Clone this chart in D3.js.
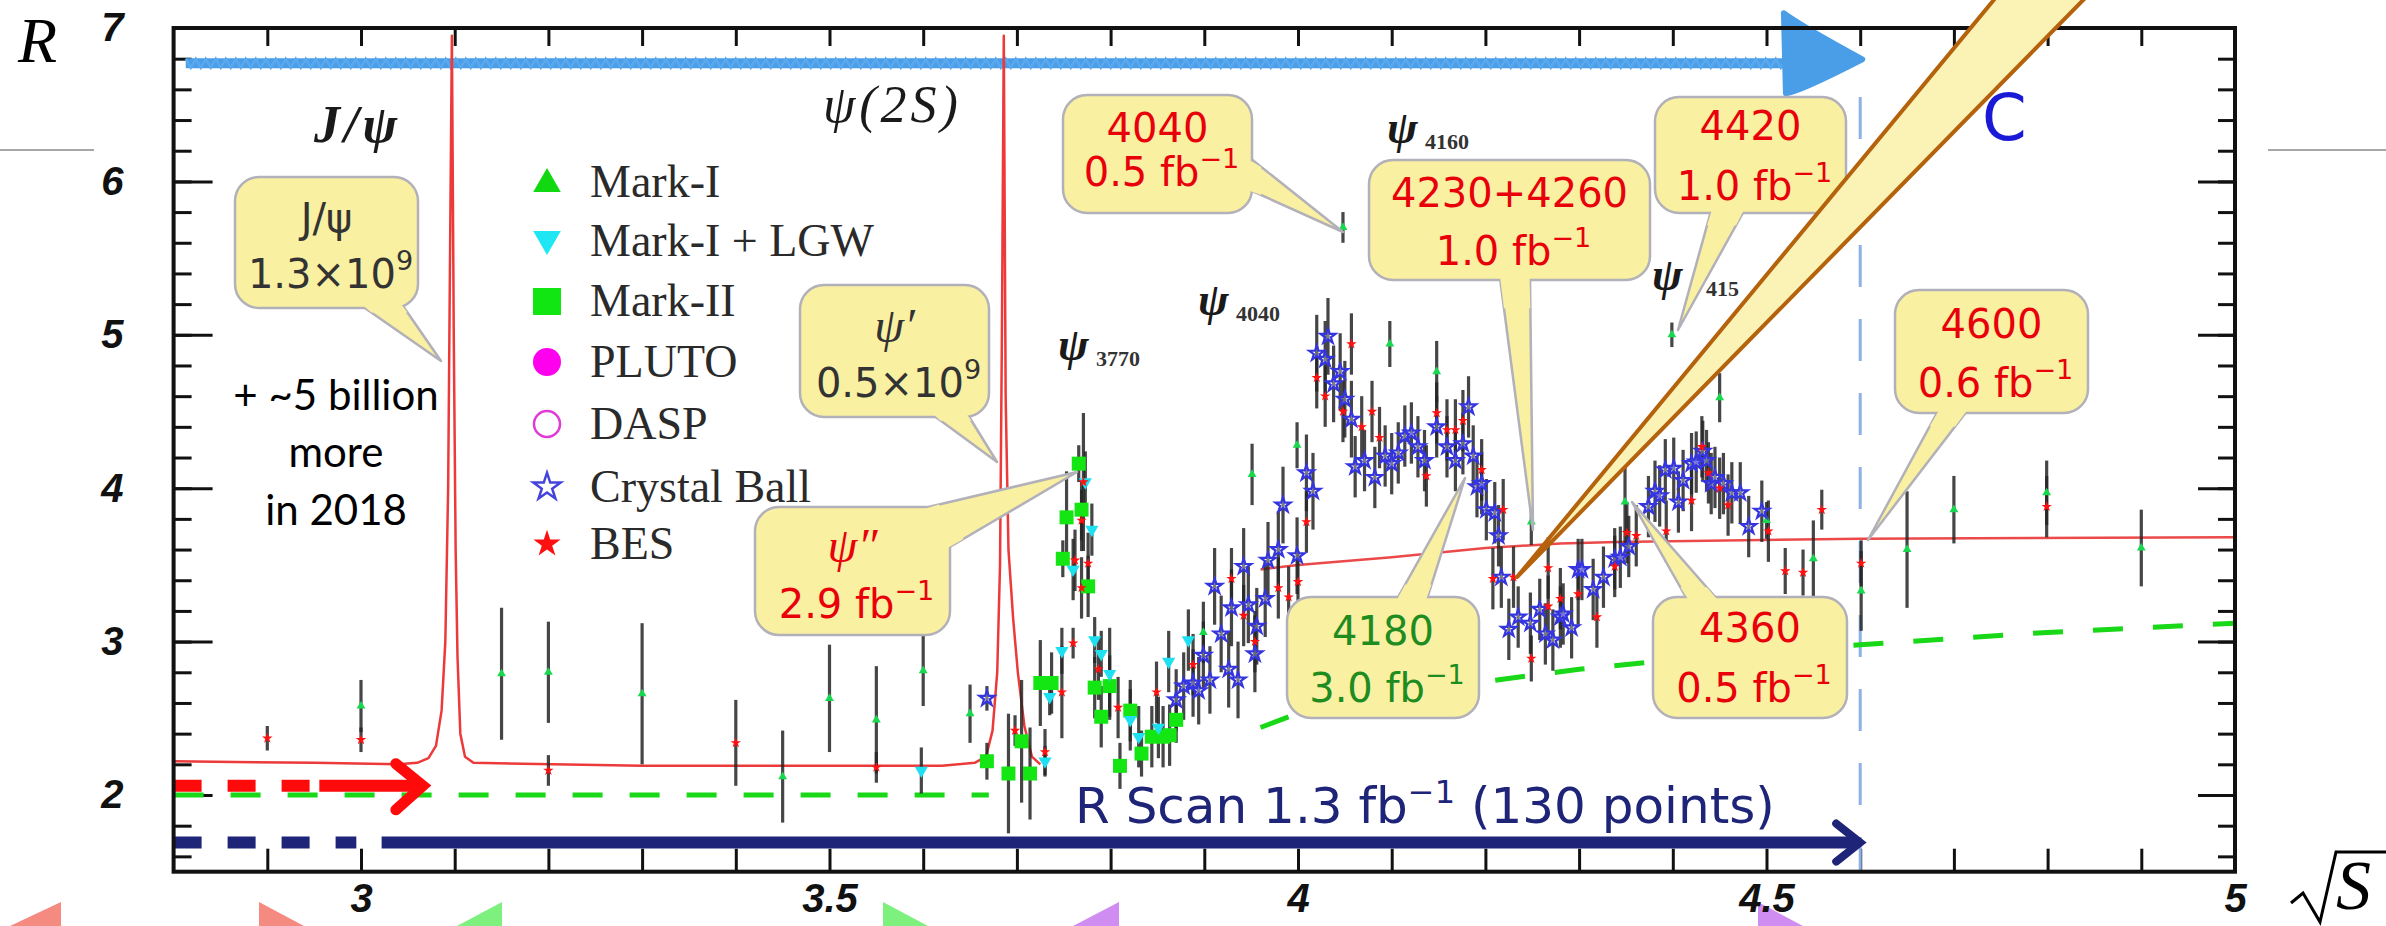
<!DOCTYPE html>
<html><head><meta charset="utf-8">
<script src="https://cdn.jsdelivr.net/npm/d3@7"></script>
<style>body{margin:0;background:#fff}svg{display:block}</style>
</head><body>
<svg id="c" width="2386" height="926"></svg>
<script>
// ---------------- DATA ----------------
// [sqrt(s) GeV, R, error]
const markI = [[3.00,2.58,0.17],[3.15,2.79,0.43],[3.20,2.80,0.33],[3.30,2.66,0.46],[3.45,2.12,0.30],[3.50,2.63,0.35],[3.55,2.49,0.35],[3.60,2.81,0.23],[3.65,2.53,0.19],[3.899,3.06,0.20],[3.951,4.09,0.20],[3.999,4.28,0.15],[4.048,5.70,0.10],[4.098,4.94,0.15],[4.148,4.76,0.20],[4.249,3.78,0.15],[4.349,3.91,0.27],[4.399,5.00,0.08],[4.450,4.59,0.16],[4.500,3.79,0.12],[4.550,3.54,0.25],[4.601,3.33,0.26],[4.650,3.60,0.38],[4.700,3.86,0.22],[4.799,3.97,0.21],[4.900,3.61,0.25]];
const markILGW = [[3.598,2.16,0.15],[3.730,2.22,0.10],[3.735,2.64,0.12],[3.748,2.94,0.15],[3.760,3.47,0.2],[3.773,4.04,0.2],[3.780,3.73,0.17],[3.783,3.01,0.15],[3.790,2.92,0.15],[3.799,2.79,0.3],[3.821,2.49,0.2],[3.830,2.38,0.2],[3.851,2.44,0.2],[3.862,2.87,0.2],[3.883,3.01,0.2]];
const markII = [[3.668,2.22,0.12],[3.691,2.14,0.39],[3.705,2.35,0.4],[3.714,2.14,0.3],[3.725,2.73,0.28],[3.737,2.73,0.2],[3.749,3.54,0.12],[3.753,3.81,0.3],[3.766,4.16,0.12],[3.769,3.86,0.2],[3.776,3.36,0.2],[3.783,2.70,0.2],[3.790,2.51,0.2],[3.799,2.71,0.2],[3.810,2.19,0.15],[3.821,2.55,0.2],[3.833,2.27,0.15],[3.844,2.38,0.2],[3.856,2.38,0.2],[3.863,2.39,0.2],[3.870,2.49,0.15]];
const pluto = [];
const dasp = [];
const crystalBall = [[3.668,2.63,0.08],[3.870,2.62,0.2],[3.878,2.71,0.22],[3.888,2.73,0.22],[3.894,2.68,0.22],[3.899,2.91,0.22],[3.906,2.75,0.22],[3.911,3.36,0.25],[3.918,3.05,0.25],[3.926,2.82,0.25],[3.929,3.22,0.25],[3.936,2.75,0.25],[3.942,3.49,0.25],[3.947,3.24,0.25],[3.954,2.92,0.25],[3.956,3.10,0.25],[3.965,3.28,0.25],[3.968,3.53,0.25],[3.979,3.60,0.25],[3.984,3.89,0.25],[3.999,3.56,0.25],[4.009,4.10,0.25],[4.016,3.98,0.25],[4.020,4.88,0.25],[4.029,4.84,0.25],[4.032,4.99,0.25],[4.038,4.68,0.25],[4.045,4.76,0.25],[4.050,4.58,0.25],[4.057,4.45,0.25],[4.061,4.14,0.2],[4.071,4.18,0.2],[4.082,4.07,0.2],[4.093,4.21,0.2],[4.100,4.16,0.2],[4.107,4.23,0.2],[4.114,4.34,0.2],[4.121,4.36,0.2],[4.128,4.27,0.2],[4.135,4.18,0.2],[4.148,4.40,0.2],[4.159,4.27,0.2],[4.168,4.18,0.2],[4.176,4.29,0.2],[4.182,4.53,0.2],[4.187,4.21,0.2],[4.191,4.01,0.2],[4.196,4.03,0.2],[4.201,3.86,0.2],[4.210,3.84,0.2],[4.214,3.69,0.2],[4.217,3.42,0.2],[4.225,3.08,0.2],[4.235,3.16,0.2],[4.248,3.12,0.2],[4.258,3.21,0.2],[4.264,3.05,0.2],[4.272,3.01,0.2],[4.280,3.16,0.2],[4.283,3.18,0.2],[4.292,3.09,0.2],[4.299,3.47,0.2],[4.303,3.47,0.2],[4.315,3.34,0.2],[4.326,3.42,0.2],[4.338,3.54,0.2],[4.344,3.55,0.2],[4.353,3.62,0.2],[4.374,3.88,0.2],[4.381,3.98,0.2],[4.386,3.95,0.2],[4.392,4.12,0.2],[4.401,4.13,0.2],[4.406,3.91,0.2],[4.411,4.05,0.2],[4.420,4.16,0.2],[4.425,4.17,0.2],[4.432,4.24,0.2],[4.436,4.18,0.2],[4.441,4.03,0.2],[4.445,4.07,0.2],[4.454,4.03,0.2],[4.463,3.97,0.2],[4.472,3.97,0.2],[4.481,3.75,0.2],[4.495,3.85,0.2]];
const bes = [[2.90,2.37,0.08],[3.00,2.36,0.08],[3.20,2.16,0.1],[3.40,2.34,0.28],[3.55,2.18,0.1],[3.698,2.42,0.1],[3.730,2.28,0.15],[3.748,2.67,0.3],[3.760,2.99,0.1],[3.762,3.53,0.2],[3.769,3.79,0.2],[3.769,3.35,0.2],[3.771,4.04,0.45],[3.776,3.51,0.2],[3.787,2.82,0.2],[3.808,2.57,0.2],[3.849,2.67,0.2],[3.888,2.85,0.2],[3.929,3.41,0.2],[3.942,3.17,0.2],[3.954,3.00,0.2],[3.979,3.35,0.2],[3.990,3.29,0.2],[4.000,3.39,0.2],[4.009,3.78,0.2],[4.020,4.72,0.2],[4.029,4.60,0.2],[4.048,4.50,0.2],[4.057,4.94,0.2],[4.068,4.40,0.2],[4.079,4.50,0.2],[4.087,4.33,0.2],[4.137,4.08,0.2],[4.148,4.49,0.2],[4.159,4.38,0.2],[4.168,4.38,0.2],[4.176,4.44,0.2],[4.196,4.12,0.2],[4.208,3.41,0.2],[4.219,3.86,0.2],[4.230,3.42,0.2],[4.249,2.89,0.15],[4.267,3.48,0.2],[4.267,3.23,0.2],[4.280,3.28,0.2],[4.299,3.31,0.2],[4.319,3.16,0.2],[4.338,3.49,0.2],[4.351,3.71,0.2],[4.361,3.69,0.2],[4.393,3.72,0.2],[4.420,3.92,0.2],[4.431,4.27,0.2],[4.438,4.10,0.2],[4.450,4.00,0.2],[4.459,3.89,0.2],[4.502,3.72,0.2],[4.520,3.46,0.15],[4.539,3.45,0.15],[4.559,3.86,0.13],[4.601,3.51,0.15],[4.799,3.88,0.2]];
// theory curves
const theoryLow = [[2.80,2.22],[2.95,2.21],[3.04,2.20],[3.060,2.21],[3.072,2.24],[3.080,2.32],[3.086,2.55],[3.090,3.0],[3.093,4.0],[3.095,5.5],[3.097,6.95],[3.099,5.0],[3.101,3.6],[3.103,2.9],[3.106,2.4],[3.111,2.25],[3.12,2.21],[3.30,2.19],[3.50,2.19],[3.62,2.19],[3.655,2.21],[3.667,2.25],[3.674,2.42],[3.679,2.8],[3.682,3.5],[3.684,5.0],[3.686,6.95],[3.688,4.6],[3.691,3.6],[3.696,3.15],[3.701,2.8],[3.708,2.45],[3.716,2.25],[3.725,2.2]];
const theoryHigh = [[3.96,3.47],[4.00,3.50],[4.10,3.55],[4.20,3.61],[4.28,3.64],[4.34,3.65],[4.60,3.67],[5.00,3.68]];
const bkgLow = [[2.80,2.0],[3.67,2.0]];
const bkgHigh = [[3.96,2.44],[3.99,2.51],[4.10,2.65],[4.20,2.74],[4.30,2.82],[4.40,2.88],[4.50,2.93],[4.60,2.98],[4.70,3.02],[4.80,3.06],[4.90,3.09],[5.00,3.12]];
// ranges
const topRange = [2.813, 4.525, 6.77];
const redRange = [2.80, 2.947, 3.058, 3.066, 2.06];
const scanRange = [2.80, 2.995, 3.022, 4.60, 1.69];
const boundary = 4.60;
// axis ticks
const xLabelTicks = [3, 3.5, 4, 4.5, 5];
const yLabelTicks = [2, 3, 4, 5, 6, 7];
const legendNames = ["Mark-I", "Mark-I + LGW", "Mark-II", "PLUTO", "DASP", "Crystal Ball", "BES"];

// ---------------- SETUP ----------------
const svg = d3.select("#c");
const x = d3.scaleLinear().domain([2.8, 5.0]).range([173.6, 2235]);
const y = d3.scaleLinear().domain([1.5, 7]).range([871.7, 28]);
const X0 = x(2.8), X1 = x(5.0), Y0 = y(7), Y1 = y(1.5);

// slide decorations
svg.append("line").attr("x1",0).attr("x2",94).attr("y1",150).attr("y2",150).attr("stroke","#8a8a8a").attr("stroke-width",1.5);
svg.append("line").attr("x1",2268).attr("x2",2386).attr("y1",150).attr("y2",150).attr("stroke","#8a8a8a").attr("stroke-width",1.5);
const tris = [["#f48a80",[[10,926],[61,902],[61,926]]],["#f48a80",[[259,902],[259,926],[304,926]]],["#7ef07e",[[457,926],[502,902],[502,926]]],["#7ef07e",[[883,902],[883,926],[928,926]]],["#cf8df2",[[1073,926],[1119,902],[1119,926]]],["#cf8df2",[[1758,902],[1758,926],[1803,926]]]];
tris.forEach(t=>svg.append("path").attr("d","M"+t[1].join("L")+"Z").attr("fill",t[0]));

// R and sqrt(s) labels
svg.append("text").attr("x",18).attr("y",62).text("R").attr("font-family","Liberation Serif").attr("font-style","italic").attr("font-size",64).attr("fill","#000");
svg.append("path").attr("d","M2291,903 L2303,893 L2320,922 L2336,852 L2386,852").attr("fill","none").attr("stroke","#000").attr("stroke-width",3);
svg.append("text").attr("x",2336).attr("y",909).text("S").attr("font-family","Liberation Serif").attr("font-style","italic").attr("font-size",70).attr("fill","#000");

// ---------------- AXES ----------------
const minorX = d3.range(2.9, 4.95, 0.1);
const minorY = d3.range(1.6, 6.95, 0.2);
function strip(g){ g.select(".domain").remove(); g.selectAll("line").attr("stroke","#111").attr("stroke-width",3); }
svg.append("g").attr("transform",`translate(0,${Y1})`).call(d3.axisBottom(x).tickValues(minorX).tickSizeInner(-23).tickSizeOuter(0).tickFormat("")).call(strip);
svg.append("g").attr("transform",`translate(0,${Y0})`).call(d3.axisTop(x).tickValues(minorX).tickSizeInner(-18).tickSizeOuter(0).tickFormat("")).call(strip);
svg.append("g").attr("transform",`translate(${X0},0)`).call(d3.axisLeft(y).tickValues(minorY).tickSizeInner(-18).tickSizeOuter(0).tickFormat("")).call(strip);
svg.append("g").attr("transform",`translate(${X0},0)`).call(d3.axisLeft(y).tickValues(yLabelTicks.slice(0,5)).tickSizeInner(-39).tickSizeOuter(0).tickFormat("")).call(strip);
svg.append("g").attr("transform",`translate(${X1},0)`).call(d3.axisRight(y).tickValues(minorY).tickSizeInner(-17).tickSizeOuter(0).tickFormat("")).call(strip);
svg.append("g").attr("transform",`translate(${X1},0)`).call(d3.axisRight(y).tickValues(yLabelTicks.slice(0,5)).tickSizeInner(-37).tickSizeOuter(0).tickFormat("")).call(strip);
function labStyle(g){ g.select(".domain").remove(); g.selectAll("text").attr("font-family","Liberation Sans").attr("font-weight","bold").attr("font-style","italic").attr("font-size",40).attr("fill","#111"); }
svg.append("g").attr("transform",`translate(0,${Y1})`).call(d3.axisBottom(x).tickValues(xLabelTicks).tickSize(0).tickPadding(12).tickFormat(d3.format("~g"))).call(labStyle);
svg.append("g").attr("transform",`translate(${X0},0)`).call(d3.axisLeft(y).tickValues(yLabelTicks).tickSize(0).tickPadding(50).tickFormat(d3.format("d"))).call(labStyle);

// ---------------- RANGE ARROWS ----------------
const ty = y(topRange[2]);
svg.append("line").attr("x1",x(topRange[0])).attr("x2",x(topRange[1])).attr("y1",ty).attr("y2",ty).attr("stroke","#4a9ee8").attr("stroke-width",10);
const zig = d3.range(x(topRange[0]), x(topRange[1]), 5).map((px,i)=>[px, ty + (i%2 ? 4.5 : -4.5)]);
svg.append("path").attr("d","M"+zig.join("L")).attr("fill","none").attr("stroke","#5aa8ee").attr("stroke-width",2.5);
const hx = x(topRange[1]), tipx = x(boundary)+2;
svg.append("path").attr("d",`M${hx-6},${ty-50} Q${hx+10},${ty-38} ${tipx},${ty-4} Q${hx+10},${ty+28} ${hx-4},${ty+30} Z`).attr("fill","#4a9ee8").attr("stroke","#4a9ee8").attr("stroke-width",6).attr("stroke-linejoin","round");

svg.append("line").attr("x1",x(boundary)).attr("x2",x(boundary)).attr("y1",y(6.55)).attr("y2",Y1).attr("stroke","#8db0e6").attr("stroke-width",3).attr("stroke-dasharray","42,32");

// ---------------- CURVES ----------------
const line = d3.line().x(d=>x(d[0])).y(d=>y(d[1]));
svg.append("path").datum(bkgLow).attr("d",line).attr("fill","none").attr("stroke","#18d818").attr("stroke-width",5).attr("stroke-dasharray","30,27");
svg.append("path").datum(bkgHigh).attr("d",line).attr("fill","none").attr("stroke","#18d818").attr("stroke-width",5).attr("stroke-dasharray","30,30");
svg.append("path").datum(theoryLow).attr("d",line).attr("fill","none").attr("stroke","#ec3a3a").attr("stroke-width",2.5).attr("stroke-linejoin","round");
svg.append("path").datum(theoryHigh).attr("d",line).attr("fill","none").attr("stroke","#ec4a4a").attr("stroke-width",2.5);

const ry = y(redRange[4]);
svg.append("line").attr("x1",x(redRange[0])).attr("x2",x(redRange[1])).attr("y1",ry).attr("y2",ry).attr("stroke","#ff0a0a").attr("stroke-width",12).attr("stroke-dasharray","28,26");
svg.append("line").attr("x1",x(redRange[1])+8).attr("x2",x(redRange[2])).attr("y1",ry).attr("y2",ry).attr("stroke","#ff0a0a").attr("stroke-width",12);
svg.append("path").attr("d",`M${x(redRange[3])-27},${ry-22} L${x(redRange[3])},${ry} L${x(redRange[3])-27},${ry+24}`).attr("fill","none").attr("stroke","#ff0a0a").attr("stroke-width",11).attr("stroke-linecap","round");
const ny = y(scanRange[4]);
svg.append("line").attr("x1",x(scanRange[0])).attr("x2",x(scanRange[1])).attr("y1",ny).attr("y2",ny).attr("stroke","#1e2478").attr("stroke-width",12).attr("stroke-dasharray","28,26");
svg.append("line").attr("x1",x(scanRange[2])).attr("x2",x(scanRange[3])-4).attr("y1",ny).attr("y2",ny).attr("stroke","#1e2478").attr("stroke-width",12);
svg.append("path").attr("d",`M${x(scanRange[3])-24},${ny-19} L${x(scanRange[3])},${ny} L${x(scanRange[3])-24},${ny+19}`).attr("fill","none").attr("stroke","#1e2478").attr("stroke-width",8).attr("stroke-linecap","round");
svg.append("text").attr("x",1075).attr("y",823).attr("font-family","DejaVu Sans").attr("font-size",50).attr("fill","#1e2478")
  .call(t=>{t.append("tspan").text("R Scan 1.3 fb"); t.append("tspan").attr("dy",-20).attr("font-size",32).text("\u22121"); t.append("tspan").attr("dy",20).text(" (130 points)");});

// ---------------- DATA POINTS ----------------
const all = [].concat(markI, markILGW, markII, pluto, dasp, crystalBall, bes);
svg.append("g").selectAll("line").data(all).join("line")
  .attr("x1",d=>x(d[0])).attr("x2",d=>x(d[0])).attr("y1",d=>y(d[1]-d[2])).attr("y2",d=>y(d[1]+d[2]))
  .attr("stroke","#262626").attr("stroke-width",3.2).attr("opacity",0.85);
const sym = (type,size)=>d3.symbol().type(type).size(size)();
function pts(data, path, attrs, rot){
  const g = svg.append("g");
  const s = g.selectAll("path").data(data).join("path").attr("d",path)
    .attr("transform",d=>`translate(${x(d[0])},${y(d[1])})${rot?` rotate(${rot})`:""}`);
  Object.entries(attrs).forEach(([k,v])=>s.attr(k,v));
}
pts(markII, "M-7,-7h14v14h-14z", {fill:"#14e614"});
pts(markILGW, sym(d3.symbolTriangle,75), {fill:"#1ee0f0"}, 180);
pts(markI, sym(d3.symbolTriangle,34), {fill:"#18d850"});
pts(pluto, sym(d3.symbolCircle,70), {fill:"#ff00ff"});
pts(dasp, sym(d3.symbolCircle,70), {fill:"none",stroke:"#e040e0","stroke-width":2});
pts(crystalBall, sym(d3.symbolStar,70), {fill:"rgba(255,255,255,0.3)",stroke:"#3535e0","stroke-width":2.2});
pts(bes, sym(d3.symbolStar,34), {fill:"#ff1010"});

// ---------------- LEGEND ----------------
const legY = [182, 241, 301, 362, 424, 487, 544];
const lg = svg.append("g");
const lx = 547;
lg.append("path").attr("d",sym(d3.symbolTriangle,330)).attr("transform",`translate(${lx},${legY[0]+2})`).attr("fill","#12d812");
lg.append("path").attr("d",sym(d3.symbolTriangle,330)).attr("transform",`translate(${lx},${legY[1]-2}) rotate(180)`).attr("fill","#1ee6f2");
lg.append("rect").attr("x",lx-14).attr("y",legY[2]-13).attr("width",28).attr("height",27).attr("fill","#12e612");
lg.append("circle").attr("cx",lx).attr("cy",legY[3]).attr("r",14).attr("fill","#ff00ee");
lg.append("circle").attr("cx",lx).attr("cy",legY[4]).attr("r",13).attr("fill","none").attr("stroke","#e03ad8").attr("stroke-width",2.5);
lg.append("path").attr("d",sym(d3.symbolStar,230)).attr("transform",`translate(${lx},${legY[5]})`).attr("fill","none").attr("stroke","#4444dd").attr("stroke-width",2.5);
lg.append("path").attr("d",sym(d3.symbolStar,230)).attr("transform",`translate(${lx},${legY[6]})`).attr("fill","#ff1010");
lg.selectAll("text").data(legendNames).join("text").attr("x",590).attr("y",(d,i)=>legY[i]+15).text(d=>d)
  .attr("font-family","Liberation Serif").attr("font-size",46).attr("fill","#2a2a2a");

// ---------------- LABELS ----------------
function T(px,py,str,o){ const t=svg.append("text").attr("x",px).attr("y",py).text(str); Object.entries(o).forEach(([k,v])=>t.attr(k,v)); return t; }
const serifBI = {"font-family":"Liberation Serif","font-style":"italic","font-weight":"bold",fill:"#1a1a1a"};
T(314,142,"J/\u03c8",{...serifBI,"font-size":52,"letter-spacing":4});
T(823,122,"\u03c8(2S)",{"font-family":"Liberation Serif","font-style":"italic","font-size":52,"letter-spacing":4,fill:"#1a1a1a"});
[["3770",1058,360],["4040",1198,315],["4160",1387,143],["415",1652,290]].forEach(([s,px,py])=>{
  T(px,py,"\u03c8",{...serifBI,"font-size":46});
  T(px+(s==="415"?54:38),py+6,s,{"font-family":"Liberation Serif","font-weight":"bold","font-size":22,fill:"#333"});
});
[["+ ~5 billion",410],["more",467],["in 2018",525]].forEach(([s,py])=>T(336,py,s,{"font-family":"Lato","font-size":42,"text-anchor":"middle",fill:"#000"}));
T(1982,140,"C",{"font-family":"DejaVu Sans","font-size":64,fill:"#1a1ad6"});

// ---------------- CALLOUTS ----------------
const RED="#e8000a", GRN="#1f8c1f", GRY="#333";
const callouts = [
  {b:[235,177,183,131], base:[[362,306],[403,306]], tip:[441,361], lines:[[232,"J/\u03c8",null,GRY],[288,"1.3\u00d710","9",GRY]]},
  {b:[800,285,189,132], base:[[933,415],[968,415]], tip:[997,462], lines:[[342,"\u03c8\u2032",null,GRY,"it"],[397,"0.5\u00d710","9",GRY]]},
  {b:[755,507,195,128], base:[[920,509],[948,548]], tip:[1077,472], lines:[[562,"\u03c8\u2033",null,RED,"it"],[618,"2.9 fb","\u22121",RED]]},
  {b:[1063,95,189,118], base:[[1250,158],[1250,190]], tip:[1343,232], lines:[[142,"4040",null,RED],[186,"0.5 fb","\u22121",RED]]},
  {b:[1369,160,281,120], base:[[1500,278],[1530,278]], tip:[1533,530], lines:[[207,"4230+4260",null,RED],[265,"1.0 fb","\u22121",RED]]},
  {b:[1655,97,191,116], base:[[1711,211],[1744,211]], tip:[1678,330], lines:[[140,"4420",null,RED],[200,"1.0 fb","\u22121",RED]]},
  {b:[1895,290,193,123], base:[[1938,411],[1967,411]], tip:[1868,540], lines:[[338,"4600",null,RED],[397,"0.6 fb","\u22121",RED]]},
  {b:[1287,597,192,121], base:[[1397,599],[1427,599]], tip:[1465,478], lines:[[645,"4180",null,GRN],[702,"3.0 fb","\u22121",GRN]]},
  {b:[1653,597,194,121], base:[[1687,599],[1717,599]], tip:[1632,502], lines:[[642,"4360",null,RED],[702,"0.5 fb","\u22121",RED]]}
];
const FILL="#f9f0a2", STK="#b2b0b8";
callouts.forEach(c=>{
  const g = svg.append("g");
  const [bx,by,bw,bh]=c.b;
  g.append("path").attr("d","M"+[c.base[0],c.tip,c.base[1]].join("L")+"Z").attr("fill",FILL).attr("stroke",STK).attr("stroke-width",2.5).attr("stroke-linejoin","round");
  g.append("rect").attr("x",bx).attr("y",by).attr("width",bw).attr("height",bh).attr("rx",24).attr("fill",FILL).attr("stroke",STK).attr("stroke-width",2.5);
  const cx=bx+bw/2, cy=by+bh/2;
  const mx=(c.base[0][0]+c.base[1][0])/2, my=(c.base[0][1]+c.base[1][1])/2;
  let vx=cx-mx, vy=cy-my; const L=Math.hypot(vx,vy); vx/=L; vy/=L;
  const a=c.base[0], b2=c.base[1], t=c.tip, f=0.12;
  const poly=[[a[0]+vx*7,a[1]+vy*7],[b2[0]+vx*7,b2[1]+vy*7],[b2[0]+(t[0]-b2[0])*f,b2[1]+(t[1]-b2[1])*f],[a[0]+(t[0]-a[0])*f,a[1]+(t[1]-a[1])*f]];
  g.append("path").attr("d","M"+poly.join("L")+"Z").attr("fill",FILL);
  c.lines.forEach(([py,main,sup,col,it])=>{
    const tx = g.append("text").attr("x",cx+(sup?4:0)).attr("y",py).attr("text-anchor","middle").attr("fill",col)
      .attr("font-family", it ? "Liberation Serif" : "DejaVu Sans").attr("font-size", it?48:40).attr("font-style", it?"italic":"normal");
    tx.append("tspan").text(main);
    if(sup) tx.append("tspan").attr("dy",-18).attr("font-size",27).text(sup);
  });
});

// ---------------- FRAME ----------------
svg.append("rect").attr("x",X0).attr("y",Y0).attr("width",X1-X0).attr("height",Y1-Y0).attr("fill","none").attr("stroke","#111").attr("stroke-width",4);

// ---------------- BIG POINTER WEDGE ----------------
svg.append("path").attr("d","M1517,577 L2093,-10 L2002,-10 Z").attr("fill","#fbf2b6").attr("stroke","#b5620c").attr("stroke-width",4).attr("stroke-linejoin","round");
</script></body></html>
